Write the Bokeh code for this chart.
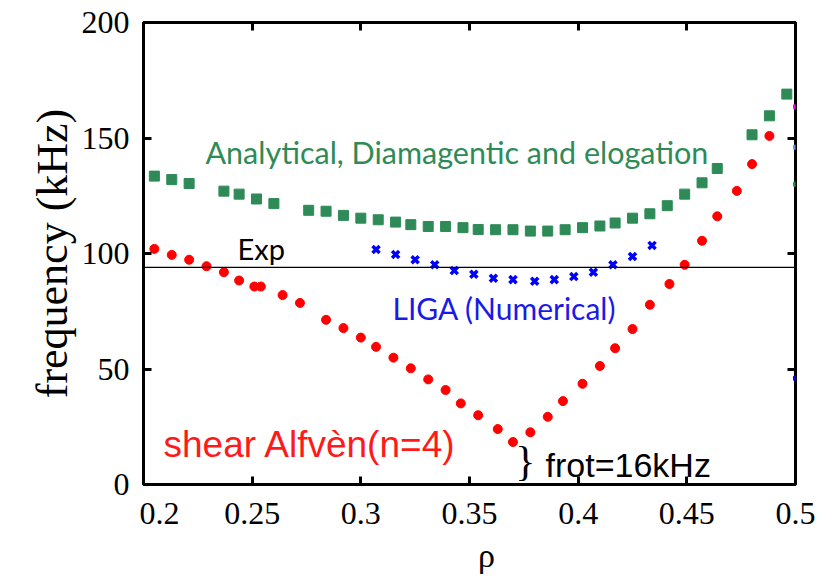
from bokeh.plotting import figure
from bokeh.models import LinearAxis, FixedTicker, Span, Label, Range1d
from bokeh.embed import file_html
from bokeh.resources import INLINE

# Analytical model (diamagnetic + elongation)
green_rho = [0.205, 0.213, 0.221, 0.237, 0.244, 0.252, 0.260, 0.276, 0.284, 0.292,
             0.300, 0.308, 0.316, 0.323, 0.331, 0.339, 0.347, 0.354, 0.362, 0.370,
             0.378, 0.386, 0.394, 0.402, 0.410, 0.417, 0.425, 0.433, 0.441, 0.449,
             0.457, 0.464, 0.480, 0.488, 0.496]
green_f = [133.5, 132.0, 130.3, 127.0, 125.7, 123.6, 121.6, 118.7, 118.3, 116.5,
           115.3, 114.6, 113.6, 112.5, 111.7, 111.7, 111.2, 110.4, 110.3, 110.3,
           109.7, 109.7, 110.3, 111.2, 111.9, 113.2, 115.3, 117.2, 120.7, 125.7,
           130.6, 136.8, 151.4, 159.6, 169.0]

# Shear Alfven continuum, n=4
red_rho = [0.205, 0.213, 0.221, 0.229, 0.237, 0.244, 0.251, 0.254, 0.264, 0.272,
           0.284, 0.292, 0.300, 0.307, 0.315, 0.323, 0.331, 0.339, 0.346, 0.354,
           0.363, 0.370, 0.378, 0.386, 0.393, 0.402, 0.410, 0.417, 0.425, 0.433,
           0.442, 0.449, 0.457, 0.464, 0.473, 0.480, 0.488]
red_f = [102.0, 99.4, 97.3, 94.5, 91.9, 88.3, 85.7, 85.7, 82.0, 78.6,
         71.3, 67.7, 63.6, 59.6, 54.9, 50.3, 45.5, 40.9, 35.1, 30.0,
         24.0, 18.4, 22.6, 29.3, 36.1, 43.6, 51.3, 59.0, 67.3, 77.8,
         86.8, 95.1, 105.5, 116.1, 127.1, 138.7, 150.9]

# LIGA numerical result
blue_rho = [0.307, 0.316, 0.325, 0.334, 0.343, 0.352, 0.361, 0.370, 0.380, 0.389,
            0.398, 0.407, 0.416, 0.425, 0.434]
blue_f = [101.7, 99.6, 97.3, 95.1, 92.6, 91.0, 89.3, 88.7, 88.0, 88.7,
          90.0, 91.9, 95.1, 98.7, 103.5]

# measured frequency
exp_f = 94.0

# small clipped marks sitting on the right border
edge_f = [163.5, 146.0, 130.0, 46.0]
edge_colors = ["#ff00ff", "#6495ed", "#2e8b57", "#0000ff"]

x_ticks = [0.2, 0.25, 0.3, 0.35, 0.4, 0.45, 0.5]
y_ticks = [0, 50, 100, 150, 200]

SERIF = "Liberation Serif"
SANS = "Liberation Sans"

p = figure(width=823, height=576, output_backend="svg", toolbar_location=None,
           x_range=Range1d(0.2, 0.5), y_range=Range1d(0, 200),
           min_border_left=143, min_border_right=28, min_border_top=22,
           min_border_bottom=91)
p.grid.visible = False
p.outline_line_color = "black"
p.outline_line_width = 3
p.background_fill_color = "white"
p.border_fill_color = "white"

p.xaxis.ticker = FixedTicker(ticks=x_ticks)
p.yaxis.ticker = FixedTicker(ticks=y_ticks)
p.axis.axis_line_color = None
p.axis.major_tick_in = 8
p.axis.major_tick_out = 0
p.axis.major_tick_line_width = 3
p.axis.minor_tick_line_color = None
p.axis.major_label_text_font = SERIF
p.axis.major_label_text_font_size = "32px"
p.axis.major_label_text_color = "black"
p.axis.axis_label_text_font = SERIF
p.axis.axis_label_text_font_style = "normal"
p.axis.axis_label_text_color = "black"

# the first rho label sits a little right of the corner
p.xaxis.major_label_overrides = {0.2: "\u2007\u20070.2"}
p.xaxis.major_label_standoff = 10
p.yaxis.major_label_standoff = 14
p.xaxis.axis_label = "\u2007\u2007ρ"
p.xaxis.axis_label_text_font_size = "34px"
p.xaxis.axis_label_standoff = 3
p.yaxis.axis_label = "frequency (kHz)"
p.yaxis.axis_label_text_font_size = "44px"
p.yaxis.axis_label_standoff = 2

# mirrored ticks on top and right
for loc, ticks in (("above", x_ticks), ("right", y_ticks)):
    ax = LinearAxis(ticker=FixedTicker(ticks=ticks))
    ax.axis_line_color = None
    ax.major_tick_in = 8
    ax.major_tick_out = 0
    ax.major_tick_line_width = 3
    ax.minor_tick_line_color = None
    ax.major_label_text_color = None
    ax.major_label_standoff = 0
    p.add_layout(ax, loc)

# experimental frequency
p.add_layout(Span(location=exp_f, dimension="width", line_color="black", line_width=1.3))

p.scatter(green_rho, green_f, marker="square", size=10, color="#2e8b57")
p.scatter(red_rho, red_f, marker="circle", size=9, color="#ff0000")
p.scatter(blue_rho, blue_f, marker="x", size=10, line_width=3.5, color="#0000ff")
p.scatter([0.5] * len(edge_f), edge_f, marker="square", size=4, color=edge_colors)

TEXTS = [
    dict(x=0.2285, y=144, text="Analytical, Diamagentic and elogation", text_font="Lato",
         text_font_size="30.5px", text_color="#2e8b57"),
    dict(x=0.2433, y=102, text="Exp", text_font="Lato", text_font_size="29px",
         text_color="black"),
    dict(x=0.3146, y=76.5, text="LIGA (Numerical)", text_font="Lato",
         text_font_size="30px", text_color="#1a1ae6"),
    dict(x=0.2092, y=17.3, text="shear Alfvèn(n=4)", text_font=SANS,
         text_font_size="37px", text_color="#ff1a1a"),
    dict(x=0.371, y=10, text="}", text_font=SERIF, text_font_size="42px",
         text_color="black"),
    dict(x=0.385, y=8.5, text="frot=16kHz", text_font=SANS, text_font_size="34px",
         text_color="black"),
]
for t in TEXTS:
    p.add_layout(Label(x=t["x"], y=t["y"], text=t["text"], text_font=t["text_font"],
                       text_font_size=t["text_font_size"], text_color=t["text_color"],
                       text_baseline="middle", text_align="left"))

open("out.html", "w").write(file_html(p, INLINE))
